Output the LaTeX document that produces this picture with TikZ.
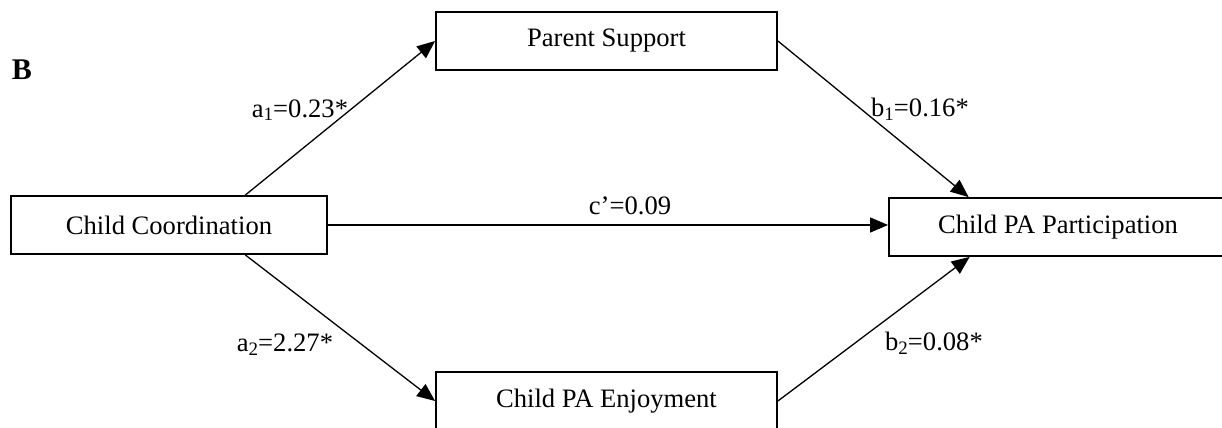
\documentclass[tikz,border=0pt]{standalone}
\usepackage{fontspec}
\setmainfont{Liberation Serif}
\usetikzlibrary{arrows.meta,calc}
\newcommand\mysb[1]{\raisebox{-0.3ex}{\fontsize{9.5}{10}\selectfont #1}}
\tikzset{
  varbox/.style={draw, line width=0.9pt, minimum height=29pt, inner sep=0pt, font=\fontsize{13.3}{16}\selectfont},
  path/.style={line width=0.65pt, -{Triangle[length=9pt,width=7.5pt]}},
  lbl/.style={inner sep=0pt, font=\fontsize{13.3}{16}\selectfont}
}
\begin{document}
\begin{tikzpicture}[x=0.5pt,y=-0.5pt]
\useasboundingbox (0,0) rectangle (1222,428);
\clip (0,0) rectangle (1222,428);
\fill[white] (0,0) rectangle (1222,428);
\node[varbox, minimum width=170.5pt] (ps) at (606.5,41) {Parent Support};
\node[varbox, minimum width=158pt] (coord) at (169,225) {Child Coordination};
\node[varbox, minimum width=169pt] (part) at (1058,227) {Child PA Participation};
\node[varbox, minimum width=170.5pt] (enjoy) at (606.5,401) {Child PA Enjoyment};
\node[lbl, font=\fontsize{15}{18}\selectfont\bfseries] (B) at (22,70) {B};
\draw[path] ($(coord.north west)!0.74!(coord.north east)$) -- (ps.west);
\draw[path] (ps.east) -- ($(part.north west)!0.237!(part.north east)$);
\draw[path] (coord.east) -- (coord.east -| part.west);
\draw[path] ($(coord.south west)!0.74!(coord.south east)$) -- (enjoy.west);
\draw[path] (enjoy.east) -- ($(part.south west)!0.24!(part.south east)$);
\node[lbl] (la1) at (300,110) {a\mysb{1}=0.23*};
\node[lbl] (lb1) at (920,109) {b\mysb{1}=0.16*};
\node[lbl] (lc) at (630,206) {c’=0.09};
\node[lbl] (la2) at (285,345) {a\mysb{2}=2.27*};
\node[lbl] (lb2) at (934,343) {b\mysb{2}=0.08*};
\end{tikzpicture}
\end{document}
